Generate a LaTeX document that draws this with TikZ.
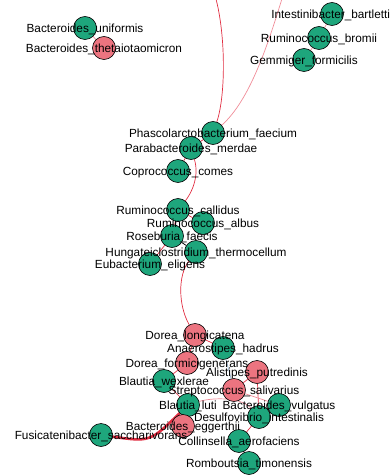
\documentclass[tikz,border=0pt]{standalone}
\usepackage{fontspec}
\setmainfont{Liberation Sans}
\usetikzlibrary{backgrounds}
\definecolor{grn}{RGB}{30,166,124}
\definecolor{rnode}{RGB}{236,116,128}
\definecolor{ered}{RGB}{225,45,65}
\definecolor{epink}{RGB}{240,140,152}
\definecolor{eblue}{RGB}{150,180,210}
\tikzset{
  gnode/.style={circle,draw=black,line width=0.6pt,fill=grn,minimum size=23pt,inner sep=0pt},
  rnd/.style={circle,draw=black,line width=0.6pt,fill=rnode,minimum size=23pt,inner sep=0pt},
  lab/.style={inner sep=0pt,font=\fontsize{11.8}{13}\selectfont,text=black,yshift=-1.5pt},
  redge/.style={draw=ered,line width=0.7pt},
  pedge/.style={draw=epink,line width=0.7pt},
  bedge/.style={draw=eblue,line width=0.7pt},
  kedge/.style={draw=black,line width=0.7pt},
  thick edge/.style={draw=ered,line width=2.6pt}
}
\begin{document}
\begin{tikzpicture}[x=1pt,y=-1pt]
\useasboundingbox (0,0) rectangle (390,476);
% nodes
\node[gnode] (ib) at (332,14) {};
\node[gnode] (bu) at (85,28) {};
\node[gnode] (rb) at (319,38) {};
\node[rnd]   (bt) at (104,48) {};
\node[gnode] (gf) at (304,60) {};
\node[gnode] (pf) at (213,133) {};
\node[gnode] (pm) at (191,148) {};
\node[gnode] (cc) at (178,171) {};
\node[gnode] (rc) at (178,210) {};
\node[gnode] (ra) at (203,223) {};
\node[gnode] (rf) at (172,236) {};
\node[gnode] (ht) at (196,252) {};
\node[gnode] (ee) at (150,264) {};
\node[rnd]   (dl) at (195,335) {};
\node[gnode] (ah) at (223,348) {};
\node[rnd]   (df) at (187,363) {};
\node[rnd]   (ap) at (257,372) {};
\node[gnode] (bw) at (164,381) {};
\node[rnd]   (ss) at (234,390) {};
\node[gnode] (bl) at (188,405) {};
\node[gnode] (bv) at (279,405) {};
\node[gnode] (di) at (259,417) {};
\node[rnd]   (be) at (183,426) {};
\node[gnode] (fs) at (101,435) {};
\node[gnode] (ca) at (239,441) {};
\node[gnode] (rt) at (249,463) {};
\coordinate (t1) at (214,-8);
\coordinate (t2) at (284,-8);
% edges
\begin{scope}[on background layer]
\draw[redge] (pf) .. controls (226,95) and (226,30) .. (t1);
\draw[pedge] (pf) .. controls (250,100) and (268,45) .. (t2);
\draw[pedge] (bu) -- (bt);
\draw[pedge] (ib) -- (rb);
\draw[pedge] (rb) -- (gf);
\draw[redge] (pf) -- (pm);
\draw[redge] (pm) -- (cc);
\draw[redge] (pm) .. controls (200,178) and (190,195) .. (rc);
\draw[redge] (rc) -- (ra);
\draw[redge] (rc) -- (rf);
\draw[kedge] (rf) -- (ht);
\draw[redge] (rf) -- (ee);
\draw[redge] (ht) .. controls (178,275) and (178,305) .. (dl);
\draw[redge] (dl) -- (ah);
\draw[redge] (dl) -- (df);
\draw[redge] (df) -- (bw);
\draw[bedge] (ah) -- (ss);
\draw[redge] (ap) -- (ss);
\draw[redge] (ap) -- (di);
\draw[pedge] (ss) -- (bv);
\draw[redge] (bw) -- (bl);
\draw[pedge] (bl) .. controls (210,398) and (240,396) .. (di);
\draw[redge] (di) -- (bv);
\draw[redge] (di) -- (ca);
\draw[redge] (ca) -- (rt);
\draw[redge] (bl) -- (be);
\draw[thick edge] (fs) .. controls (150,442) .. (bl);
\end{scope}
% labels
\node[lab] (lib) at (ib) {Intestinibacter\_bartlettii};
\node[lab] (lbu) at (bu) {Bacteroides\_uniformis};
\node[lab] (lrb) at (rb) {Ruminococcus\_bromii};
\node[lab] (lbt) at (bt) {Bacteroides\_thetaiotaomicron};
\node[lab] (lgf) at (gf) {Gemmiger\_formicilis};
\node[lab] (lpf) at (pf) {Phascolarctobacterium\_faecium};
\node[lab] (lpm) at (pm) {Parabacteroides\_merdae};
\node[lab] (lcc) at (cc) {Coprococcus\_comes};
\node[lab] (lrc) at (rc) {Ruminococcus\_callidus};
\node[lab] (lra) at (ra) {Ruminococcus\_albus};
\node[lab] (lrf) at (rf) {Roseburia\_faecis};
\node[lab] (lht) at (ht) {Hungateiclostridium\_thermocellum};
\node[lab] (lee) at (ee) {Eubacterium\_eligens};
\node[lab] (ldl) at (dl) {Dorea\_longicatena};
\node[lab] (lah) at (ah) {Anaerostipes\_hadrus};
\node[lab] (ldf) at (df) {Dorea\_formicigenerans};
\node[lab] (lap) at (ap) {Alistipes\_putredinis};
\node[lab] (lbw) at (bw) {Blautia\_wexlerae};
\node[lab] (lss) at (ss) {Streptococcus\_salivarius};
\node[lab] (lbl) at (bl) {Blautia\_luti};
\node[lab] (lbv) at (bv) {Bacteroides\_vulgatus};
\node[lab] (ldi) at (di) {Desulfovibrio\_intestinalis};
\node[lab] (lbe) at (be) {Bacteroides\_eggerthii};
\node[lab] (lfs) at (fs) {Fusicatenibacter\_saccharivorans};
\node[lab] (lca) at (ca) {Collinsella\_aerofaciens};
\node[lab] (lrt) at (rt) {Romboutsia\_timonensis};
\end{tikzpicture}
\end{document}
